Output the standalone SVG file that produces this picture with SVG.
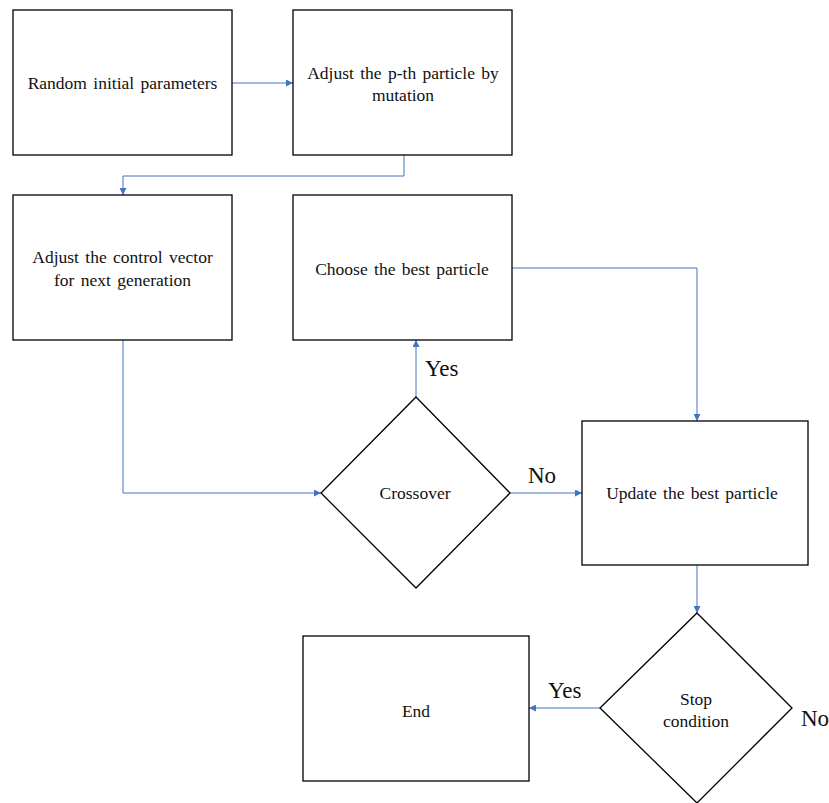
<svg xmlns="http://www.w3.org/2000/svg" width="829" height="803" viewBox="0 0 829 803">
<defs>
<marker id="ah" viewBox="0 0 10 10" refX="10" refY="5" markerWidth="7" markerHeight="7" markerUnits="userSpaceOnUse" orient="auto">
<path d="M0,0 L10,5 L0,10 z" fill="#4472C4"/>
</marker>
</defs>
<style>
.box{fill:#fff;stroke:#000;stroke-width:1.3}
.t{font-size:17.5px;fill:#111;text-anchor:middle;word-spacing:2px}
.lbl{font-size:23px;fill:#111}
.c{fill:none;stroke:#4472C4;stroke-width:1;marker-end:url(#ah)}
</style>
<rect width="829" height="803" fill="#fff"/>
<g id="connectors">
<path class="c" d="M232,83 H293"/>
<path class="c" d="M404,155 V176 H123 V195"/>
<path class="c" d="M512,268 H697 V421"/>
<path class="c" d="M123,340 V493 H321"/>
<path class="c" d="M416,397 V340"/>
<path class="c" d="M510,493 H582"/>
<path class="c" d="M697,565 V613"/>
<path class="c" d="M600,708 H529"/>
</g>
<g font-family="Liberation Serif, Times New Roman, serif">
<g id="n1"><rect class="box" x="13" y="10" width="219" height="145"/><text class="t" x="122.5" y="89">Random initial parameters</text></g>
<g id="n2"><rect class="box" x="293" y="10" width="219" height="145"/><text class="t" x="403" y="79">Adjust the p-th particle by</text><text class="t" x="403" y="101">mutation</text></g>
<g id="n3"><rect class="box" x="13" y="195" width="219" height="145"/><text class="t" x="122.5" y="263">Adjust the control vector</text><text class="t" x="122.5" y="286">for next generation</text></g>
<g id="n4"><rect class="box" x="293" y="195" width="219" height="145"/><text class="t" x="402" y="275">Choose the best particle</text></g>
<g id="n5"><polygon class="box" points="416,397 510,493 416,588 321,493"/><text class="t" x="415" y="499">Crossover</text></g>
<g id="n6"><rect class="box" x="582" y="421" width="226" height="144"/><text class="t" x="692" y="499">Update the best particle</text></g>
<g id="n7"><polygon class="box" points="697,613 792,708 697,803 600,708"/><text class="t" x="696" y="705">Stop</text><text class="t" x="696" y="727">condition</text></g>
<g id="n8"><rect class="box" x="303" y="636" width="226" height="145"/><text class="t" x="416" y="717">End</text></g>
<g id="labels">
<text class="lbl" x="425" y="376">Yes</text>
<text class="lbl" x="528" y="483">No</text>
<text class="lbl" x="548" y="698">Yes</text>
<text class="lbl" x="801" y="726">No</text>
</g>
</g>
</svg>
